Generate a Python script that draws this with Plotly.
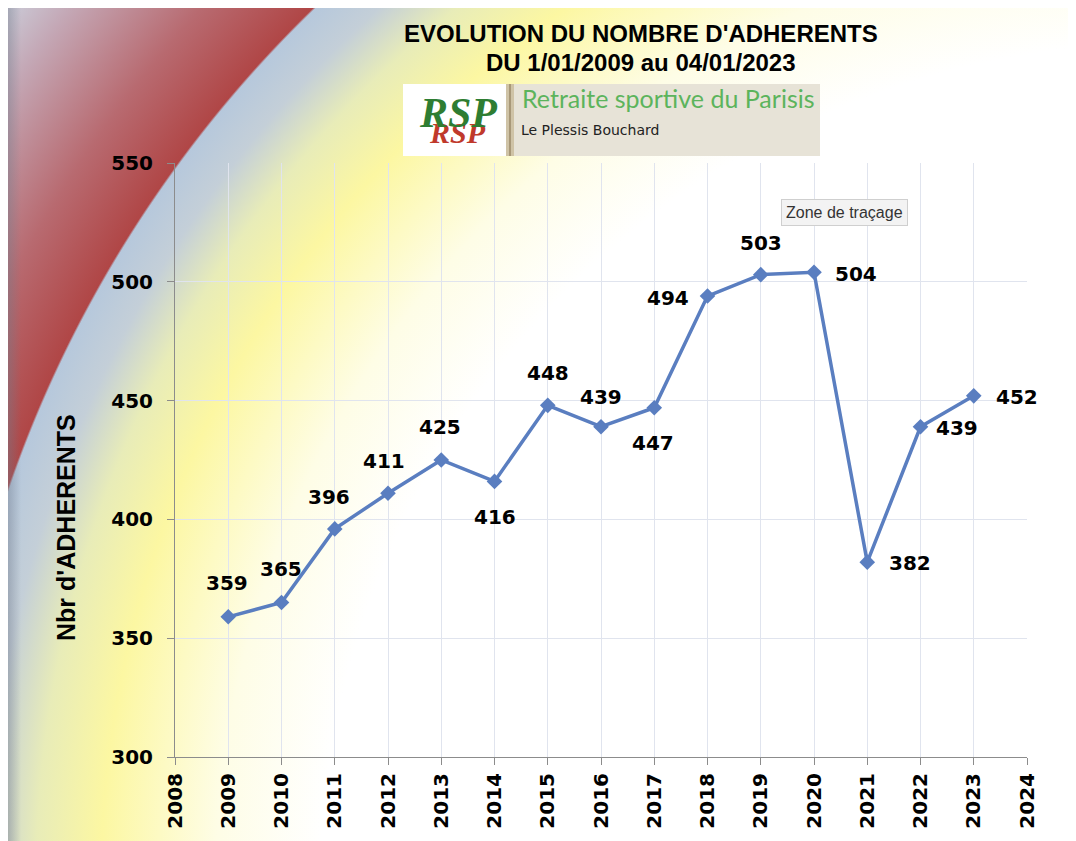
"""
evolution du nombre d'adherents RSP 2009 - 2023
"""
import base64
import plotly.graph_objects as go

# data
years = [2009, 2010, 2011, 2012, 2013, 2014, 2015, 2016, 2017, 2018, 2019, 2020, 2021, 2022, 2023]
adherents = [359, 365, 396, 411, 425, 416, 448, 439, 447, 494, 503, 504, 382, 439, 452]
x_ticks = list(range(2008, 2025))
y_ticks = [300, 350, 400, 450, 500, 550]

# label offsets in px (dx, dy, dy>0 = down)
label_offsets = [(-1, -34), (-1, -34), (-6, -32), (-4, -32), (-1, -33), (0, 36), (0, -32),
                 (0, -30), (-1, 35), (-40, 2), (0, -32), (42, 2), (43, 1), (36, 1), (43, 1)]

OFF = 8  # body margin of the page
PAGE_W, PAGE_H = 1076, 841
W, H = PAGE_W - OFF, PAGE_H - OFF
L, R, T, B = 175 - OFF, 49, 163 - OFF, 84
PW, PH = W - L - R, H - T - B


def px(x, y):
    # page pixel -> paper coords
    return (x - OFF - L) / PW, (PAGE_H - B - y) / PH


# background (radial gradient of the powerpoint slide), in page pixels
CX, CY, EDGE = 1163, 886, 1222
RMAX = EDGE + 260
stops = [(0, "#ffffff"), (EDGE - 380, "#ffffff"), (EDGE - 275, "#fefde6"),
         (EDGE - 160, "#fcf7a2"), (EDGE - 95, "#e8ecb8"), (EDGE - 45, "#c4cfd8"),
         (EDGE - 2, "#b6c8dc"), (EDGE, "#b04646"), (EDGE + 80, "#b86a70"),
         (EDGE + 180, "#c4a8b6"), (EDGE + 240, "#ccd2de"), (RMAX, "#ccd2de")]
stop_xml = "".join(f"<stop offset='{d / RMAX:.4f}' stop-color='{c}'/>" for d, c in stops)

svg = f"""<svg xmlns='http://www.w3.org/2000/svg' width='{W}' height='{H}' viewBox='{OFF} {OFF} {W} {H}' preserveAspectRatio='none'>
<defs>
<radialGradient id='g' gradientUnits='userSpaceOnUse' cx='{CX}' cy='{CY}' r='{RMAX}'>{stop_xml}</radialGradient>
<linearGradient id='e' x1='0' x2='1' y1='0' y2='0'>
<stop offset='0' stop-color='#707888' stop-opacity='0.45'/>
<stop offset='1' stop-color='#707888' stop-opacity='0'/>
</linearGradient>
</defs>
<rect x='0' y='0' width='{PAGE_W}' height='{PAGE_H}' fill='#ffffff'/>
<rect x='7' y='6' width='{PAGE_W - 7}' height='{PAGE_H - 6}' fill='url(#g)'/>
<rect x='7' y='6' width='14' height='{PAGE_H - 6}' fill='url(#e)'/>
</svg>"""
bg_src = "data:image/svg+xml;base64," + base64.b64encode(svg.encode()).decode()

fig = go.Figure()
fig.add_trace(go.Scatter(
    x=years, y=adherents, mode="lines+markers",
    line=dict(color="#5a7ec0", width=3.5),
    marker=dict(symbol="diamond", size=12, color="#5a7ec0"),
    hoverinfo="x+y", showlegend=False,
))

heavy = dict(family="DejaVu Sans", size=20, color="black", weight="bold")
annots = []
for yr, v, (dx, dy) in zip(years, adherents, label_offsets):
    annots.append(dict(x=yr, y=v, xref="x", yref="y", text=str(v), showarrow=False,
                       xanchor="center", yanchor="middle",
                       xshift=dx, yshift=-dy, font=heavy))


def note(x, y, text, font, **kw):
    xp, yp = px(x, y)
    d = dict(x=xp, y=yp, xref="paper", yref="paper", showarrow=False, text=text,
             xanchor="center", yanchor="middle", font=font)
    d.update(kw)
    annots.append(d)


note(641, 33, "<b>EVOLUTION DU NOMBRE D'ADHERENTS</b>",
     dict(family="Liberation Sans", size=24, color="black"))
note(641, 62, "<b>DU 1/01/2009 au 04/01/2023</b>",
     dict(family="Liberation Sans", size=24, color="black"))
note(66, 528, "<b>Nbr d'ADHERENTS</b>",
     dict(family="Liberation Sans", size=25, color="black"), textangle=-90)

# logo
shapes = []
def rect(xa, ya, xb, yb, color):
    p0 = px(xa, yb)
    p1 = px(xb, ya)
    shapes.append(dict(type="rect", xref="paper", yref="paper", x0=p0[0], y0=p0[1],
                       x1=p1[0], y1=p1[1], fillcolor=color, line=dict(width=0), layer="above"))

rect(403, 84, 820, 156, "#ffffff")
rect(514, 84, 820, 156, "#e7e3d7")
rect(506, 84, 514, 156, "#cfc3a6")
rect(509, 84, 511, 156, "#a89878")

note(457, 132, "<b><i>RSP</i></b>", dict(family="Liberation Serif", size=30, color="#c0392b"))
note(458, 113, "<b><i>RSP</i></b>", dict(family="Liberation Serif", size=42, color="#2e7d32"))
note(520, 98, "Retraite sportive du Parisis",
     dict(family="Lato", size=25, color="#5cb45c"), xanchor="left")
note(519, 130, "Le Plessis Bouchard",
     dict(family="DejaVu Sans", size=14, color="#222222"), xanchor="left")

# tooltip
note(844, 212, "Zone de traçage", dict(family="Liberation Sans", size=16, color="#333333"),
     bgcolor="#f3f3f3", bordercolor="#cfcfcf", borderwidth=1, borderpad=4)

axis_common = dict(tickfont=heavy, showgrid=True, gridcolor="#e0e4ee", gridwidth=1,
                   showline=True, linecolor="#8c8c8c", linewidth=1,
                   ticks="outside", ticklen=7, tickcolor="#8c8c8c", zeroline=False)

fig.update_layout(
    width=W, height=H,
    margin=dict(l=L, r=R, t=T, b=B, pad=0),
    paper_bgcolor="white",
    plot_bgcolor="rgba(254,252,212,0.86)",
    images=[dict(source=bg_src, xref="paper", yref="paper",
                 x=-L / PW, y=1 + T / PH, sizex=W / PW, sizey=H / PH,
                 xanchor="left", yanchor="top", sizing="stretch", layer="below")],
    annotations=annots,
    shapes=shapes,
    xaxis=dict(range=[2008, 2024], tickvals=x_ticks, tickangle=-90, **axis_common),
    yaxis=dict(range=[300, 550], tickvals=y_ticks, ticklabelstandoff=10, **axis_common),
)

fig.write_html("out.html", config={"displayModeBar": False})
